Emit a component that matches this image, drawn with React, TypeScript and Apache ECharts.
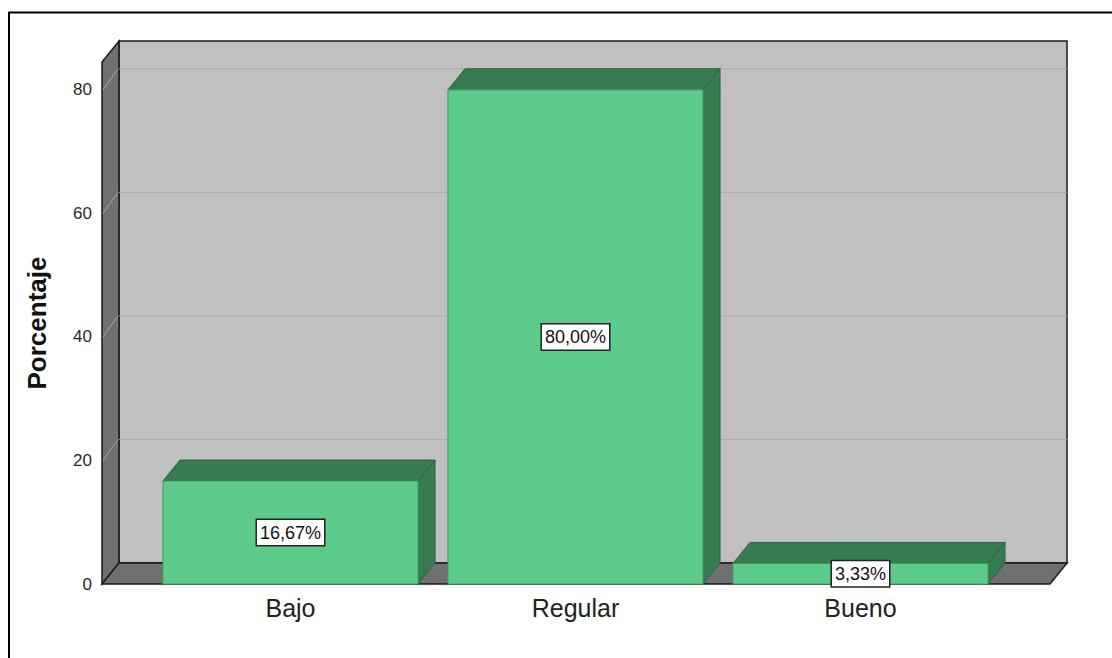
import React, { useEffect, useRef } from "react";
import * as echarts from "echarts";

const categories = ["Bajo", "Regular", "Bueno"];
const percentages = [16.67, 80.0, 3.33];
const valueLabels = ["16,67%", "80,00%", "3,33%"];
const yTicks = [0, 20, 40, 60, 80];
const yMax = 84.5;

const DX = 17;
const DY = -21;
const PAD_L = 46;
const PAD_R = 47;
const FONT = '"Liberation Sans", Arial, Helvetica, sans-serif';

export default function App() {
  const ref = useRef<HTMLDivElement>(null);

  useEffect(() => {
    if (!ref.current) return;
    const chart = echarts.init(ref.current, null, { renderer: "svg" });

    const wallsRender = (params: any, api: any) => {
      const cs = params.coordSys;
      const left = cs.x - PAD_L;
      const right = cs.x + cs.width + PAD_R;
      const y0 = api.coord([0, 0])[1];
      const yTop = api.coord([0, yMax])[1];
      const children: any[] = [];
      children.push({
        type: "rect",
        shape: { x: left + DX, y: yTop + DY, width: right - left, height: y0 - yTop },
        style: { fill: "#c0c0c0", stroke: "#1a1a1a", lineWidth: 1.5 },
      });
      children.push({
        type: "polygon",
        shape: {
          points: [
            [left, yTop],
            [left + DX, yTop + DY],
            [left + DX, y0 + DY],
            [left, y0],
          ],
        },
        style: { fill: "#707070", stroke: "#1a1a1a", lineWidth: 1.5 },
      });
      yTicks.forEach((t) => {
        if (t === 0) return;
        const y = api.coord([0, t])[1];
        children.push({
          type: "line",
          shape: { x1: left + DX, y1: y + DY, x2: right + DX, y2: y + DY },
          style: { stroke: "#aaaaaa", lineWidth: 1 },
        });
        children.push({
          type: "line",
          shape: { x1: left + 1, y1: y, x2: left + DX - 1, y2: y + DY },
          style: { stroke: "#a8a8a8", lineWidth: 1 },
        });
      });
      children.push({
        type: "polygon",
        shape: {
          points: [
            [left, y0],
            [left + DX, y0 + DY],
            [right + DX, y0 + DY],
            [right, y0],
          ],
        },
        style: { fill: "#707070", stroke: "#1a1a1a", lineWidth: 1.5 },
      });
      return { type: "group", children };
    };

    const barRender = (params: any, api: any) => {
      const c = api.value(0);
      const v = api.value(1);
      const [cx, yTop] = api.coord([c, v]);
      const y0 = api.coord([c, 0])[1];
      const band = api.size([1, 0])[0];
      const w = band * 0.895;
      const x1 = cx - w / 2;
      const x2 = cx + w / 2;
      return {
        type: "group",
        children: [
          {
            type: "polygon",
            shape: {
              points: [
                [x1, yTop],
                [x1 + DX, yTop + DY],
                [x2 + DX, yTop + DY],
                [x2, yTop],
              ],
            },
            style: { fill: "#377b51", stroke: "#2c6342", lineWidth: 1 },
          },
          {
            type: "polygon",
            shape: {
              points: [
                [x2, yTop],
                [x2 + DX, yTop + DY],
                [x2 + DX, y0 + DY],
                [x2, y0],
              ],
            },
            style: { fill: "#377b51", stroke: "#2c6342", lineWidth: 1 },
          },
          {
            type: "rect",
            shape: { x: x1, y: yTop, width: w, height: y0 - yTop },
            style: { fill: "#5ccb8c", stroke: "#3f9a66", lineWidth: 1 },
          },
          {
            type: "text",
            x: cx,
            y: (yTop + y0) / 2,
            style: {
              text: valueLabels[params.dataIndex],
              fill: "#111",
              fontSize: 18,
              fontFamily: FONT,
              align: "center",
              verticalAlign: "middle",
              backgroundColor: "#ffffff",
              borderColor: "#222",
              borderWidth: 1.5,
              padding: [4, 3, 3, 3],
            },
          },
        ],
      };
    };

    chart.setOption({
      animation: false,
      backgroundColor: "#ffffff",
      grid: { left: 148, right: 109, top: 62, bottom: 74, containLabel: false },
      xAxis: {
        type: "category",
        data: categories,
        axisLine: { show: false },
        axisTick: { show: false },
        splitLine: { show: false },
        axisLabel: { fontSize: 25, color: "#222", fontFamily: FONT, margin: 11 },
      },
      yAxis: {
        type: "value",
        min: 0,
        max: yMax,
        interval: 20,
        offset: PAD_L,
        axisLine: { show: false },
        axisTick: { show: false },
        splitLine: { show: false },
        axisLabel: {
          fontSize: 17,
          color: "#2a2a2a",
          fontFamily: FONT,
          margin: 10,
          padding: [4, 0, 0, 0],
          formatter: (v: number) => (yTicks.includes(v) ? String(v) : ""),
        },
        name: "Porcentaje",
        nameLocation: "middle",
        nameGap: 52,
        nameTextStyle: { fontSize: 26, fontWeight: "bold", color: "#111", fontFamily: FONT },
      },
      graphic: [
        {
          type: "rect",
          silent: true,
          shape: { x: 9, y: 12.5, width: 1200, height: 1000 },
          style: { fill: "none", stroke: "#000", lineWidth: 2 },
        },
      ],
      series: [
        {
          type: "custom",
          name: "walls",
          renderItem: wallsRender,
          data: [[0, 0]],
          silent: true,
          z: 1,
        },
        {
          type: "custom",
          name: "Porcentaje",
          renderItem: barRender,
          data: percentages.map((v, i) => [i, v]),
          z: 2,
        },
      ],
    });

    return () => chart.dispose();
  }, []);

  return (
    <div
      ref={ref}
      style={{ position: "fixed", left: 0, top: 0, width: 1112, height: 658, background: "#fff" }}
    />
  );
}
